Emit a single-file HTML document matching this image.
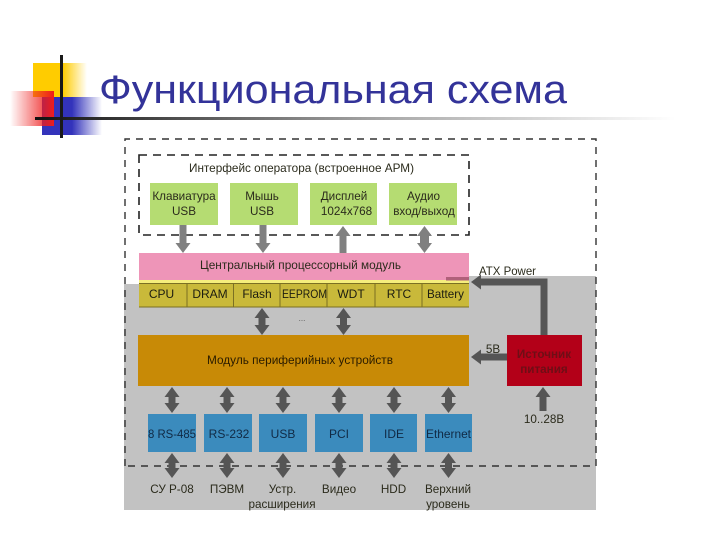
<!DOCTYPE html>
<html lang="ru">
<head>
<meta charset="utf-8">
<title>Функциональная схема</title>
<style>
html,body{margin:0;padding:0;background:#fff;width:720px;height:540px;overflow:hidden}
svg{display:block;filter:blur(.3px)}
text{font-family:"Liberation Sans","DejaVu Sans",sans-serif}
.t{font-size:11.7px;fill:#2b2b1c;text-anchor:middle}
.b{font-size:12px;fill:#1c1c10;text-anchor:middle}
.n{font-size:12px;fill:#102a45;text-anchor:middle}
</style>
</head>
<body>
<svg width="720" height="540" viewBox="0 0 720 540" xmlns="http://www.w3.org/2000/svg">
<defs>
<linearGradient id="gy" x1="0" x2="1" y1="0" y2="0"><stop offset="0" stop-color="#ffcc00"/><stop offset=".55" stop-color="#ffcc00"/><stop offset="1" stop-color="#ffcc00" stop-opacity="0"/></linearGradient>
<linearGradient id="gb" x1="0" x2="1" y1="0" y2="0"><stop offset="0" stop-color="#3333bb"/><stop offset=".5" stop-color="#3333bb"/><stop offset="1" stop-color="#3333bb" stop-opacity="0"/></linearGradient>
<linearGradient id="gr" x1="1" x2="0" y1="0" y2="0"><stop offset="0" stop-color="#ee1c1c"/><stop offset="1" stop-color="#ee1c1c" stop-opacity="0"/></linearGradient>
<linearGradient id="gl" x1="0" x2="1" y1="0" y2="0"><stop offset="0" stop-color="#111"/><stop offset=".12" stop-color="#333"/><stop offset=".55" stop-color="#aaa"/><stop offset="1" stop-color="#fff"/></linearGradient>
<marker id="hg" markerUnits="userSpaceOnUse" markerWidth="15" markerHeight="16" refX="1" refY="8" orient="auto-start-reverse"><path d="M0 0.500L10 8L0 15.500Z" fill="#808080"/></marker>
<marker id="hd" markerUnits="userSpaceOnUse" markerWidth="15" markerHeight="16" refX="1" refY="8" orient="auto-start-reverse"><path d="M0 0.500L10 8L0 15.500Z" fill="#555"/></marker>
</defs>

<!-- decoration -->
<rect x="33" y="63" width="54" height="34" fill="url(#gy)"/>
<rect x="42" y="97" width="60" height="38" fill="url(#gb)"/>
<rect x="10" y="91" width="44" height="35" fill="url(#gr)"/>
<rect x="35" y="117" width="640" height="3" fill="url(#gl)"/>
<rect x="60" y="55" width="3" height="83" fill="#1a1a1a"/>

<text x="99" y="103" font-size="40" fill="#333399" textLength="468" lengthAdjust="spacingAndGlyphs">Функциональная схема</text>

<!-- grey region -->
<path d="M124 284H469V276H596V510H124Z" fill="#c2c2c2"/>

<!-- dashed frames -->
<path d="M125 466V139H596V466H125" fill="none" stroke="#333" stroke-width="1.4" stroke-dasharray="7 6"/>
<path d="M139 155H469V235H139Z" fill="none" stroke="#222" stroke-width="1.6" stroke-dasharray="8 6"/>

<!-- operator interface -->
<text x="301.500" y="172" class="t" textLength="225" lengthAdjust="spacingAndGlyphs">Интерфейс оператора (встроенное АРМ)</text>
<g fill="#b5dc72">
<rect x="150" y="183" width="68" height="42"/>
<rect x="230" y="183" width="68" height="42"/>
<rect x="310" y="183" width="67" height="42"/>
<rect x="389" y="183" width="68" height="42"/>
</g>
<text class="t" x="184" y="200">Клавиатура</text><text class="t" x="184" y="215">USB</text>
<text class="t" x="262" y="200">Мышь</text><text class="t" x="262" y="215">USB</text>
<text class="t" x="344" y="200">Дисплей</text><text class="t" x="346.500" y="215">1024x768</text>
<text class="t" x="423.500" y="200">Аудио</text><text class="t" x="424" y="215">вход/выход</text>

<!-- arrows top -->
<g stroke="#808080" stroke-width="7" fill="none">
<line x1="183" y1="225" x2="183" y2="244" marker-end="url(#hg)"/>
<line x1="263" y1="225" x2="263" y2="244" marker-end="url(#hg)"/>
<line x1="343" y1="253" x2="343" y2="235" marker-end="url(#hg)"/>
<line x1="424.500" y1="235" x2="424.500" y2="244" stroke-width="9" marker-start="url(#hg)" marker-end="url(#hg)"/>
</g>

<!-- CPU module -->
<rect x="139" y="253" width="330" height="27" fill="#ee95b8"/>
<rect x="139" y="280" width="330" height="3.500" fill="#f5ee7c"/>
<rect x="139" y="283" width="330" height="24" fill="#c9b93a"/>
<rect x="446" y="277" width="23" height="3.500" fill="#b0607a"/>
<path d="M139 283.500H469M139 307H469M187 283V307M233.500 283V307M280 283V307M327 283V307M375 283V307M422 283V307" stroke="#7b7023" stroke-width="1" fill="none"/>
<text x="300.500" y="269" class="t" textLength="201" lengthAdjust="spacingAndGlyphs">Центральный процессорный модуль</text>
<text class="b" x="161.500" y="298">CPU</text>
<text class="b" x="210" y="298">DRAM</text>
<text class="b" x="257" y="298">Flash</text>
<text class="b" x="304.500" y="298" textLength="45" lengthAdjust="spacingAndGlyphs">EEPROM</text>
<text class="b" x="351" y="298">WDT</text>
<text class="b" x="399" y="298">RTC</text>
<text class="b" x="445.500" y="298" textLength="37" lengthAdjust="spacingAndGlyphs">Battery</text>
<text x="302" y="321" font-size="8" fill="#555" text-anchor="middle">...</text>

<!-- arrows mid -->
<g stroke="#555" stroke-width="7" fill="none">
<line x1="262" y1="317" x2="262" y2="326" marker-start="url(#hd)" marker-end="url(#hd)"/>
<line x1="343.500" y1="317" x2="343.500" y2="326" marker-start="url(#hd)" marker-end="url(#hd)"/>
</g>

<!-- peripheral -->
<rect x="138" y="335" width="331" height="51" fill="#c88a06"/>
<text x="300" y="364" class="b" style="fill:#2a1c00" textLength="186" lengthAdjust="spacingAndGlyphs">Модуль периферийных устройств</text>

<!-- power -->
<rect x="507" y="335" width="75" height="51" fill="#b30018"/>
<text x="544" y="358" class="t" style="fill:#6e0e16;font-weight:bold">Источник</text>
<text x="544" y="373" class="t" style="fill:#6e0e16;font-weight:bold">питания</text>
<g stroke="#555" stroke-width="7" fill="none">
<path d="M544 335V282H480" marker-end="url(#hd)"/>
<line x1="507" y1="357" x2="480" y2="357" marker-end="url(#hd)"/>
<line x1="543" y1="411" x2="543" y2="396" marker-end="url(#hd)"/>
</g>
<text x="507.500" y="275" class="t" textLength="57" lengthAdjust="spacingAndGlyphs">ATX Power</text>
<text x="493" y="353" class="t">5В</text>
<text x="544" y="423" class="t">10..28В</text>

<!-- blue -->
<g fill="#3b8bbd">
<rect x="148" y="414" width="48" height="38"/>
<rect x="204" y="414" width="48" height="38"/>
<rect x="259" y="414" width="48" height="38"/>
<rect x="315" y="414" width="48" height="38"/>
<rect x="370" y="414" width="47" height="38"/>
<rect x="425" y="414" width="47" height="38"/>
</g>
<text class="n" x="172" y="438" textLength="48" lengthAdjust="spacingAndGlyphs">8 RS-485</text>
<text class="n" x="229" y="438">RS-232</text>
<text class="n" x="283" y="438">USB</text>
<text class="n" x="339" y="438">PCI</text>
<text class="n" x="394" y="438">IDE</text>
<text class="n" x="448.500" y="438" textLength="45" lengthAdjust="spacingAndGlyphs">Ethernet</text>

<!-- arrows lower -->
<g stroke="#555" stroke-width="7" fill="none">
<line x1="172" y1="396" x2="172" y2="404" marker-start="url(#hd)" marker-end="url(#hd)"/>
<line x1="227" y1="396" x2="227" y2="404" marker-start="url(#hd)" marker-end="url(#hd)"/>
<line x1="283" y1="396" x2="283" y2="404" marker-start="url(#hd)" marker-end="url(#hd)"/>
<line x1="339" y1="396" x2="339" y2="404" marker-start="url(#hd)" marker-end="url(#hd)"/>
<line x1="394" y1="396" x2="394" y2="404" marker-start="url(#hd)" marker-end="url(#hd)"/>
<line x1="448.500" y1="396" x2="448.500" y2="404" marker-start="url(#hd)" marker-end="url(#hd)"/>
<line x1="172" y1="462" x2="172" y2="469" marker-start="url(#hd)" marker-end="url(#hd)"/>
<line x1="227" y1="462" x2="227" y2="469" marker-start="url(#hd)" marker-end="url(#hd)"/>
<line x1="283" y1="462" x2="283" y2="469" marker-start="url(#hd)" marker-end="url(#hd)"/>
<line x1="339" y1="462" x2="339" y2="469" marker-start="url(#hd)" marker-end="url(#hd)"/>
<line x1="394" y1="462" x2="394" y2="469" marker-start="url(#hd)" marker-end="url(#hd)"/>
<line x1="448.500" y1="462" x2="448.500" y2="469" marker-start="url(#hd)" marker-end="url(#hd)"/>
</g>

<text class="t" x="172" y="493">СУ Р-08</text>
<text class="t" x="227" y="493">ПЭВМ</text>
<text class="t" x="282.500" y="493">Устр.</text>
<text class="t" x="282" y="508">расширения</text>
<text class="t" x="339" y="493">Видео</text>
<text class="t" x="393.500" y="493">HDD</text>
<text class="t" x="448" y="493">Верхний</text>
<text class="t" x="448" y="508">уровень</text>
</svg>
</body>
</html>
